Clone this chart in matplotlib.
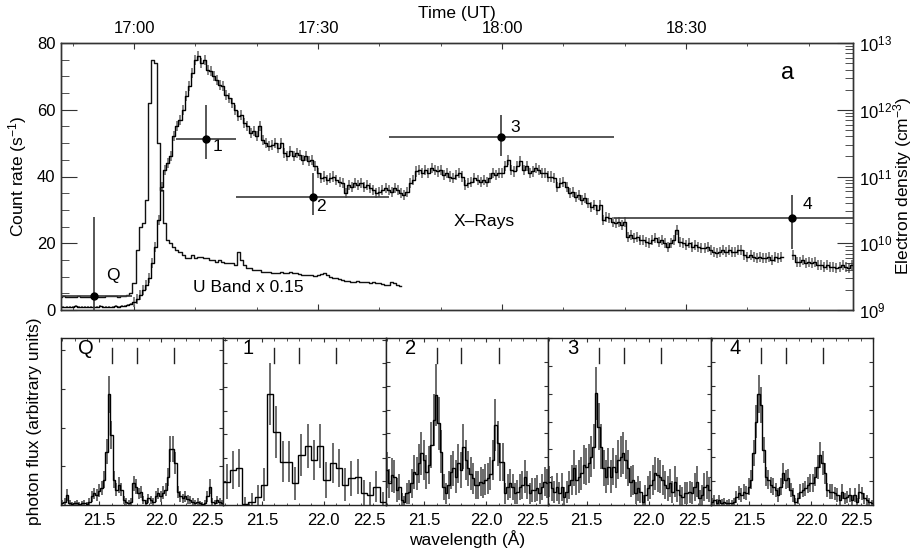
import numpy as np
import matplotlib
matplotlib.use("Agg")
import matplotlib.pyplot as plt
from matplotlib.ticker import MultipleLocator, FuncFormatter, LogLocator, NullFormatter

plt.rcParams['font.family'] = ['Liberation Sans', 'DejaVu Sans']
plt.rcParams['mathtext.fontset'] = 'custom'
plt.rcParams['mathtext.rm'] = 'Liberation Sans'
plt.rcParams['mathtext.it'] = 'Liberation Sans:italic'
plt.rcParams['mathtext.bf'] = 'Liberation Sans:bold'

# ---------------- data: light curves (time in minutes from 17:00 UT) ----------------
xray_start, xray_step = -12.0, 0.5
xray_rate = [
    0.9, 1.0, 0.8, 1.0, 0.9, 1.1, 0.9, 0.8, 1.0, 0.9,
    1.0, 0.8, 0.9, 1.1, 1.0, 0.9, 0.8, 1.0, 1.1, 1.0,
    1.1, 1.2, 1.4, 1.8, 2.3, 3.2, 4.5, 6.0, 7.5, 9.5,
    14, 19, 27, 37, 42, 44, 46, 52, 55, 57,
    60, 64, 67, 71, 75, 76, 74, 75, 72, 71.5,
    70, 69, 67.5, 67, 64.5, 63.5, 62, 60, 58, 58.5,
    56, 55, 53, 53.5, 52, 55, 51, 50, 49, 49.5,
    50, 48.5, 50, 47, 46, 47.5, 46, 47, 46.5, 45,
    46, 44.5, 45, 43, 41, 39.5, 40, 39, 39.5, 40,
    39, 38.5, 38, 35, 37.5, 37, 38, 37.5, 38, 37,
    37.5, 36.5, 36, 35, 35.5, 36, 36.5, 36, 35.5, 36.5,
    36, 35, 34.5, 35.5, 38, 39, 41.5, 42, 41, 42,
    41, 42.5, 42, 41.5, 42, 40.5, 41, 40, 39.5, 40.5,
    41, 40, 37.5, 38, 38.5, 39.5, 39, 38.5, 39, 38.5,
    39.5, 41, 40.5, 41, 41, 43, 45, 42, 41.5, 43,
    44.5, 42, 43, 41, 41.5, 42.5, 42, 41, 41, 40,
    40, 39.5, 37, 38, 38.5, 37, 35, 35.5, 34, 34.5,
    33, 33.5, 32, 31, 31.5, 30, 31.5, 27, 28, 27.5,
    26.5, 26, 26.5, 25.5, 26.5, 22, 22.5, 21.5, 22, 21,
    21, 20.5, 20, 21, 21.5, 20.5, 21, 20, 19, 20,
    21, 24, 20.5, 20, 19.5, 20, 19, 19.5, 19, 18.5,
    18.5, 19, 18, 17.5, 17, 17.5, 18, 17.5, 18, 17.5,
    17.5, 18, 18, 16.5, 16, 16.5, 16, 15.5, 16, 15.5,
    15.5, 16, 15, 16, 15.5, 16, np.nan, np.nan, np.nan, 16.5,
    14.5, 14.5, 15, 14, 14.5, 14, 14.5, 13.5, 13.5, 13,
    13.5, 13, 13, 12.5, 13, 13.5, 13, 12.5, 13.5,
]
xray_err_quiet = 0.3
xray_err_flare = 1.5

uband_start, uband_step = -12.0, 0.5
uband_rate = [
    4.0, 4.1, 3.9, 4.0, 4.0, 3.9, 4.1, 4.0, 3.9, 4.0,
    4.0, 4.1, 4.0, 3.9, 4.0, 4.2, 4.3, 4.1, 4.2, 4.0,
    4.1, 4.3, 4.5, 5.0, 8.0, 18.0, 25.0, 26.0, 33.0, 62.0,
    75.0, 74.0, 50.0, 36.0, 26.0, 21.0, 20.0, 19.0, 18.0, 17.5,
    16.5, 15.5, 15.5, 16.5, 15.5, 16.0, 16.0, 15.5, 15.5, 15.0,
    15.0, 14.5, 15.0, 14.5, 14.0, 14.0, 14.0, 13.5, 17.5, 15.0,
    13.5, 12.5, 12.5, 12.0, 12.0, 12.0, 11.5, 11.5, 11.5, 11.0,
    11.0, 11.0, 11.5, 11.0, 11.0, 11.3, 11.0, 11.0, 10.8, 10.5,
    10.5, 10.5, 10.5, 10.3, 10.5, 10.8, 11.0, 10.5, 9.8, 9.5,
    9.5, 9.2, 9.0, 8.8, 8.8, 8.5, 8.5, 8.6, 8.5, 8.3,
    8.4, 8.2, 8.3, 8.2, 8.0, 7.8, 7.5, 7.6, 8.5, 8.0, 7.5, 7.3,
]

# electron density measurements (right axis)
dens_names = ['Q', '1', '2', '3', '4']
dens_time = [-6.5, 11.7, 29.1, 59.9, 107.2]
dens_tmin = [-11.9, 6.85, 16.6, 41.5, 78.3]
dens_tmax = [-0.4, 16.6, 41.5, 78.3, 117.2]
dens_val = [1.64e9, 3.6e11, 4.9e10, 3.9e11, 2.37e10]
dens_low = [1e8, 1.86e11, 2.63e10, 2.0e11, 8.3e9]
dens_high = [2.5e10, 1.17e12, 1.12e11, 8.3e11, 5.2e10]

# ---------------- data: O VII spectra ----------------
spec_names = ['Q', '1', '2', '3', '4']
spec_q = [0.04, 0.09, 0.26, 0.06, 0.03, 0.04, 0.06, 0.03, 0.04, 0.06,
          0.03, 0.09, 0.22, 0.30, 0.26, 0.37, 0.43, 0.65, 1.38, 2.86,
          1.81, 0.65, 0.39, 0.52, 0.39, 0.13, 0.09, 0.06, 0.09, 0.56,
          0.47, 0.30, 0.34, 0.13, 0.06, 0.17, 0.13, 0.09, 0.22, 0.30,
          0.22, 0.32, 0.39, 0.73, 1.44, 1.44, 1.08, 0.34, 0.22, 0.17,
          0.22, 0.15, 0.13, 0.09, 0.06, 0.09, 0.04, 0.03, 0.06, 0.22,
          0.47, 0.09, 0.06, 0.13, 0.09, 0.06]
err_q = [0.08, 0.10, 0.15, 0.08, 0.06, 0.06, 0.08, 0.06, 0.06, 0.08,
         0.06, 0.10, 0.14, 0.15, 0.15, 0.17, 0.18, 0.22, 0.32, 0.48,
         0.36, 0.22, 0.17, 0.20, 0.17, 0.10, 0.10, 0.08, 0.10, 0.20,
         0.19, 0.15, 0.16, 0.10, 0.08, 0.12, 0.10, 0.10, 0.14, 0.15,
         0.14, 0.16, 0.17, 0.23, 0.33, 0.33, 0.28, 0.16, 0.14, 0.12,
         0.14, 0.12, 0.10, 0.10, 0.08, 0.10, 0.06, 0.06, 0.08, 0.14,
         0.19, 0.10, 0.08, 0.10, 0.10, 0.08]
spec_1 = [0.99, 1.48, 1.55, 0.04, 0.14, 0.35, 0.85, 4.70, 3.10, 1.84,
          1.84, 0.92, 2.12, 2.50, 1.90, 2.50, 1.06, 1.77, 1.55, 0.85,
          1.13, 1.20, 0.49, 0.42, 0.78, 0.14]
err_1 = [0.75, 0.80, 0.80, 0.30, 0.35, 0.50, 0.70, 1.30, 1.10, 0.85,
         0.85, 0.70, 0.90, 0.95, 0.85, 0.95, 0.75, 0.85, 0.80, 0.70,
         0.75, 0.75, 0.55, 0.55, 0.65, 0.40]
spec_2 = [1.46, 0.91, 1.26, 1.19, 0.63, 0.77, 0.21, 0.14, 0.49, 0.56,
          0.91, 1.39, 1.32, 1.74, 2.16, 1.88, 1.39, 1.67, 2.51, 3.56,
          4.60, 3.42, 2.23, 0.77, 0.49, 0.84, 1.39, 1.53, 1.19, 1.74,
          1.46, 2.44, 1.88, 1.53, 1.32, 1.12, 0.84, 0.84, 0.98, 0.91,
          1.05, 1.12, 1.32, 1.88, 3.35, 2.58, 1.81, 1.81, 0.49, 0.77,
          0.91, 0.77, 0.49, 0.56, 0.77, 0.84, 1.19, 0.84, 0.49, 0.63,
          0.63, 0.70, 0.49, 0.77, 0.98, 0.91]
err_2 = [0.75, 0.60, 0.70, 0.70, 0.50, 0.55, 0.30, 0.25, 0.45, 0.50,
         0.60, 0.70, 0.70, 0.80, 0.90, 0.85, 0.70, 0.80, 0.95, 1.10,
         1.30, 1.10, 0.90, 0.55, 0.45, 0.60, 0.70, 0.75, 0.70, 0.80,
         0.75, 0.95, 0.85, 0.75, 0.70, 0.65, 0.60, 0.60, 0.60, 0.60,
         0.65, 0.65, 0.70, 0.85, 1.10, 0.95, 0.80, 0.80, 0.45, 0.55,
         0.60, 0.55, 0.45, 0.50, 0.55, 0.60, 0.70, 0.60, 0.45, 0.50,
         0.50, 0.55, 0.45, 0.55, 0.60, 0.60]
spec_3 = [0.84, 0.60, 0.48, 0.66, 0.42, 0.66, 0.30, 0.48, 0.72, 0.90,
          1.32, 0.90, 1.02, 1.14, 1.44, 1.38, 1.50, 1.74, 2.10, 4.02,
          2.82, 2.10, 1.32, 1.02, 1.38, 1.02, 1.38, 1.20, 1.62, 1.74,
          1.86, 1.62, 1.32, 0.84, 0.90, 0.42, 0.60, 0.48, 0.12, 0.36,
          0.60, 0.72, 0.90, 1.14, 1.08, 1.02, 0.90, 0.72, 0.60, 0.78,
          0.48, 0.84, 0.54, 0.36, 0.30, 0.42, 0.42, 0.48, 0.42, 0.66,
          0.84, 0.24, 0.36, 0.66, 0.72, 0.54]
err_3 = [0.55, 0.45, 0.40, 0.50, 0.40, 0.50, 0.35, 0.40, 0.50, 0.55,
         0.65, 0.55, 0.60, 0.60, 0.70, 0.65, 0.70, 0.75, 0.80, 0.95,
         0.85, 0.80, 0.65, 0.60, 0.65, 0.60, 0.65, 0.60, 0.70, 0.75,
         0.75, 0.70, 0.65, 0.55, 0.55, 0.40, 0.45, 0.40, 0.25, 0.35,
         0.45, 0.50, 0.55, 0.60, 0.60, 0.60, 0.55, 0.50, 0.45, 0.50,
         0.40, 0.55, 0.45, 0.35, 0.35, 0.40, 0.40, 0.40, 0.40, 0.50,
         0.55, 0.30, 0.35, 0.50, 0.50, 0.45]
spec_4 = [0.14, 0.21, 0.10, 0.21, 0.10, 0.14, 0.07, 0.10, 0.07, 0.14,
          0.35, 0.49, 0.42, 0.56, 0.49, 0.77, 1.05, 2.17, 3.50, 4.66,
          4.20, 2.31, 1.19, 1.05, 0.84, 0.77, 0.63, 0.42, 0.77, 1.33,
          1.05, 1.12, 0.63, 0.42, 0.14, 0.28, 0.56, 0.63, 0.70, 0.84,
          0.91, 0.91, 1.19, 1.61, 2.10, 1.75, 1.33, 0.63, 0.56, 0.56,
          0.49, 0.42, 0.21, 0.56, 0.28, 0.35, 0.42, 0.21, 0.42, 0.14,
          0.56, 0.49, 0.28, 0.21, 0.14, 0.07]
err_4 = [0.15, 0.20, 0.15, 0.20, 0.15, 0.15, 0.12, 0.15, 0.12, 0.15,
         0.25, 0.30, 0.28, 0.30, 0.30, 0.35, 0.40, 0.55, 0.70, 0.80,
         0.75, 0.55, 0.40, 0.40, 0.35, 0.35, 0.30, 0.28, 0.35, 0.45,
         0.40, 0.40, 0.30, 0.28, 0.15, 0.22, 0.30, 0.30, 0.32, 0.35,
         0.37, 0.37, 0.40, 0.50, 0.55, 0.50, 0.45, 0.30, 0.30, 0.30,
         0.28, 0.28, 0.20, 0.30, 0.22, 0.25, 0.28, 0.20, 0.28, 0.15,
         0.30, 0.28, 0.22, 0.20, 0.15, 0.12]
spec_flux = [spec_q, spec_1, spec_2, spec_3, spec_4]
spec_err = [err_q, err_1, err_2, err_3, err_4]
wave_min, wave_max = 21.19, 22.5
line_waves = [21.60, 21.80, 22.10]       # O VII r, i, f
panel_ymax = [4.31, 7.07, 7.0, 6.0, 7.0]

# ---------------- figure ----------------
W, H = 914, 553
fig = plt.figure(figsize=(W / 100, H / 100), dpi=100)
def fx(px): return px / W
def fy(py): return 1 - py / H

FRAME = '#333333'
TICKFS = 12

ax = fig.add_axes([fx(61), fy(310), fx(853) - fx(61), fy(43) - fy(310)])
xt = xray_start + xray_step * np.arange(len(xray_rate))
xr = np.array(xray_rate, dtype=float)
xerr = np.where(xt < 0, xray_err_quiet, xray_err_flare)
ax.errorbar(xt, xr, yerr=xerr, fmt='none', ecolor='#6e6e6e', elinewidth=1.2, zorder=2)
ax.step(xt, xr, where='mid', color='k', lw=1.0, zorder=3)
ut = uband_start + uband_step * np.arange(len(uband_rate))
ax.step(ut, uband_rate, where='mid', color='#111111', lw=1.0, zorder=3)
ax.set_xlim(-11.9, 117.2)
ax.set_ylim(0, 80)

ax2 = ax.twinx()
ax2.set_yscale('log')
ax2.set_ylim(1e9, 1e13)
for i in range(len(dens_names)):
    ax2.errorbar([dens_time[i]], [dens_val[i]],
                 xerr=[[dens_time[i] - dens_tmin[i]], [dens_tmax[i] - dens_time[i]]],
                 yerr=[[dens_val[i] - dens_low[i]], [dens_high[i] - dens_val[i]]],
                 fmt='o', color='k', ms=5, ecolor='#3a3a3a', elinewidth=1.2, capsize=0, zorder=4)

# labels in the light-curve panel
lab_kw = dict(fontsize=12.5, ha='center', va='center')
ax.text(-3.4, 10.2, 'Q', **lab_kw)
ax.text(13.6, 48.9, '1', **lab_kw)
ax.text(30.4, 30.9, '2', **lab_kw)
ax.text(62.2, 54.6, '3', **lab_kw)
ax.text(109.7, 31.5, '4', **lab_kw)
ax.text(106.5, 71.0, 'a', fontsize=17, ha='center', va='center')
ax.text(57.0, 26.4, 'X\u2013Rays', **lab_kw)
ax.text(18.6, 6.6, 'U Band x 0.15', **lab_kw)

ax.xaxis.set_major_locator(MultipleLocator(30))
ax.xaxis.set_minor_locator(MultipleLocator(10))
ax.xaxis.set_major_formatter(FuncFormatter(lambda v, p: f"{17 + int(round(v)) // 60}:{int(round(v)) % 60:02d}"))
ax.tick_params(axis='x', which='both', direction='in', top=True, bottom=True,
               labeltop=True, labelbottom=False, labelsize=TICKFS, pad=5, color=FRAME)
ax.tick_params(axis='x', which='major', length=4)
ax.tick_params(axis='x', which='minor', length=2)
ax.yaxis.set_major_locator(MultipleLocator(20))
ax.yaxis.set_minor_locator(MultipleLocator(5))
ax.tick_params(axis='y', which='both', direction='in', left=True, right=False,
               labelsize=TICKFS, pad=4, color=FRAME)
ax.tick_params(axis='y', which='major', length=11.5)
ax.tick_params(axis='y', which='minor', length=5.8)
ax.set_xlabel('Time (UT)', fontsize=12.5, labelpad=2)
ax.xaxis.set_label_position('top')

ax2.yaxis.set_major_locator(LogLocator(base=10, subs=(1.0,)))
ax2.yaxis.set_minor_locator(LogLocator(base=10, subs=np.arange(2, 10)))
ax2.yaxis.set_minor_formatter(NullFormatter())
ax2.tick_params(axis='y', which='both', direction='in', right=True, left=False,
                labelsize=TICKFS, pad=4, color=FRAME)
ax2.tick_params(axis='y', which='major', length=11.5)
ax2.tick_params(axis='y', which='minor', length=5.8)

for a in (ax, ax2):
    for s in a.spines.values():
        s.set_color(FRAME)
        s.set_linewidth(1.0)

fig.text(fx(18), fy(176), 'Count rate (s$^{-1}$)', rotation=90, fontsize=12.5, ha='center', va='center')
fig.text(fx(903), fy(186), 'Electron density (cm$^{-3}$)', rotation=90, fontsize=12.5, ha='center', va='center')

# ---------------- spectra panels ----------------
pw = 162.4
for i in range(5):
    a = fig.add_axes([fx(61 + i * pw), fy(505), pw / W, fy(338) - fy(505)])
    vals = np.array(spec_flux[i])
    n = len(vals)
    edges = np.linspace(wave_min, wave_max, n + 1)
    centers = 0.5 * (edges[:-1] + edges[1:])
    a.errorbar(centers, vals, yerr=spec_err[i], fmt='none', ecolor='#6a6a6a', elinewidth=1.4, zorder=2)
    a.stairs(vals, edges, color='k', lw=1.0, baseline=None, zorder=3)
    for lw_ in line_waves:
        a.plot([lw_, lw_], [0.85, 0.94], transform=a.get_xaxis_transform(), color='#222222', lw=1.0)
    a.text(0.154, 0.94, spec_names[i], transform=a.transAxes, fontsize=14.5, ha='center', va='center')
    a.set_xlim(wave_min, wave_max)
    a.set_ylim(0, panel_ymax[i])
    a.set_xticks([21.5, 22.0, 22.5], labels=['21.5', '22.0', '22.5'])
    a.xaxis.set_minor_locator(MultipleLocator(0.1))
    a.yaxis.set_major_locator(MultipleLocator(1))
    a.tick_params(axis='both', which='both', direction='in', top=True, right=True,
                  labelleft=False, labelsize=TICKFS, color=FRAME)
    a.tick_params(axis='x', which='major', length=3, pad=6)
    a.tick_params(axis='x', which='minor', length=1.8)
    a.tick_params(axis='y', which='major', length=3)
    a.get_xticklabels()[2].set_horizontalalignment('right')
    for s in a.spines.values():
        s.set_color('#222222')
        s.set_linewidth(1.0)
    if i == 2:
        a.set_xlabel('wavelength (\u00c5)', fontsize=12.5, labelpad=1)

fig.text(fx(35), fy(421), 'photon flux (arbitrary units)', rotation=90, fontsize=12.5, ha='center', va='center')

fig.savefig('out.png', dpi=100)
